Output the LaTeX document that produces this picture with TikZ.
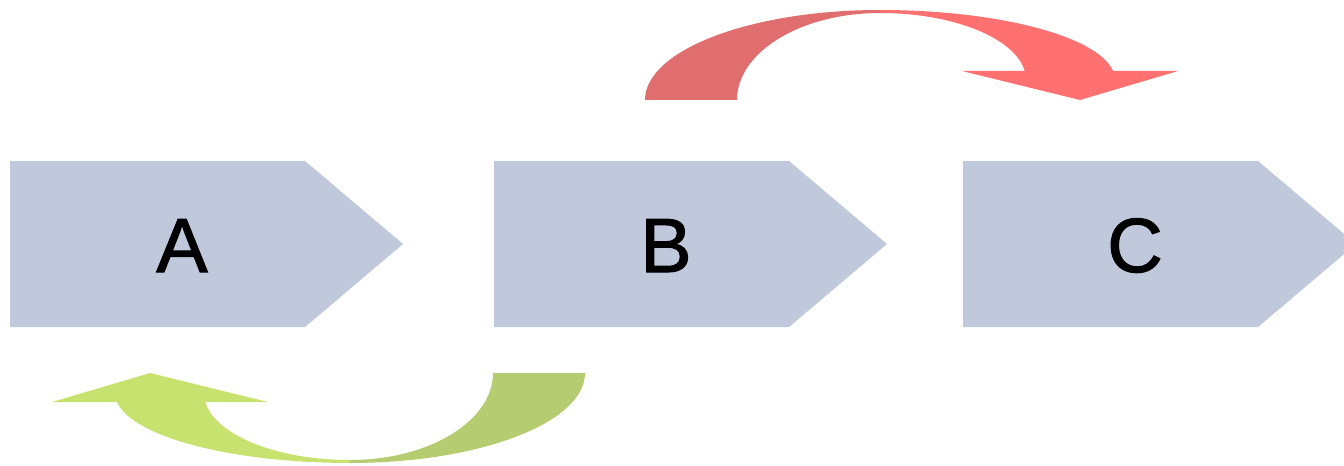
\documentclass[tikz,border=0pt]{standalone}
\usepackage{fontspec}
\setmainfont{Liberation Sans}
\newfontface\lblface{Liberation Sans}[FakeBold=1.5]
\definecolor{chevfill}{HTML}{C0C9DC}
\definecolor{redtail}{HTML}{E06E6E}
\definecolor{redhead}{HTML}{FF7171}
\definecolor{greentail}{HTML}{B5CC71}
\definecolor{greenhead}{HTML}{C8E270}
\tikzset{
  chev/.style={fill=chevfill, draw=none},
  lbl/.style={anchor=base, inner sep=0pt, font=\lblface\fontsize{57.6pt}{60pt}\selectfont, text=black},
}
% curved arrow: tail part and head part, each a band between two elliptic arcs
\newcommand{\bentarrow}[2]{%
  % tail band
  \fill[#1] (645,365) arc[start angle=180, end angle=90, x radius=235, y radius=90]
            -- (880,452) arc[start angle=90, end angle=180, x radius=143, y radius=87]
            -- cycle;
  % head band with its arrowhead
  \fill[#2] (880,455) arc[start angle=90, end angle=7.39, x radius=235, y radius=70]
            -- (1178,394) -- (1080,365) -- (962,394) -- (1024.7,394)
            arc[start angle=7.72, end angle=90, x radius=146, y radius=67]
            -- cycle;
}
\begin{document}
\begin{tikzpicture}[x=0.75pt, y=0.75pt]
  \useasboundingbox (0,0) rectangle (1344,465);
  \clip (0,0) rectangle (1344,465);
  % process chevrons with their labels
  \foreach \n/\x in {A/10, B/494, C/963} {
    \fill[chev] (\x,138) -- ++(295,0) -- ++(98,83) -- ++(-98,83) -- ++(-295,0) -- cycle;
    \node[lbl] (\n) at (\x+172,193) {\n};
  }
  % forward loop over the top, from B to C
  \bentarrow{redtail}{redhead}
  % backward loop underneath, from B to A
  \begin{scope}[rotate around={180:(615,228.5)}]
    \bentarrow{greentail}{greenhead}
  \end{scope}
\end{tikzpicture}
\end{document}
